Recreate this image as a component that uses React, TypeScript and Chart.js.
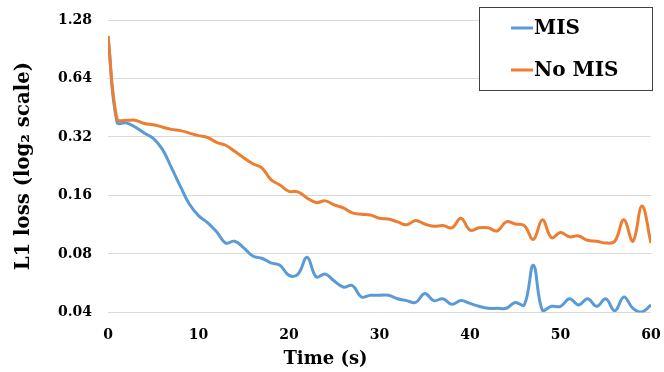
import { useEffect, useRef } from "react";
import { Chart, registerables } from "chart.js";

Chart.register(...registerables);

const times = [
  0, 1, 2, 3, 4, 5, 6, 7, 8, 9, 10, 11, 12, 13, 14, 15, 16, 17, 18, 19, 20,
  21, 22, 23, 24, 25, 26, 27, 28, 29, 30, 31, 32, 33, 34, 35, 36, 37, 38, 39, 40,
  41, 42, 43, 44, 45, 46, 47, 48, 49, 50, 51, 52, 53, 54, 55, 56, 57, 58, 59, 60,
];

const misLoss = [
  1.06, 0.38, 0.378, 0.36, 0.335, 0.315, 0.277, 0.223, 0.178, 0.144, 0.126,
  0.116, 0.104, 0.091, 0.093, 0.086, 0.078, 0.076, 0.072, 0.07, 0.062,
  0.063, 0.077, 0.061, 0.063, 0.058, 0.054, 0.055, 0.048, 0.049, 0.049,
  0.049, 0.047, 0.046, 0.045, 0.05, 0.046, 0.047, 0.044, 0.046, 0.0445,
  0.043, 0.042, 0.042, 0.042, 0.045, 0.0437, 0.07, 0.041, 0.043, 0.043,
  0.047, 0.0437, 0.047, 0.043, 0.047, 0.0408, 0.048, 0.042, 0.0402, 0.0437,
];

const noMisLoss = [
  1.06, 0.395, 0.39, 0.39, 0.375, 0.37, 0.36, 0.35, 0.345, 0.335, 0.325,
  0.318, 0.3, 0.29, 0.27, 0.25, 0.233, 0.222, 0.193, 0.181, 0.168,
  0.167, 0.155, 0.147, 0.15, 0.143, 0.138, 0.13, 0.128, 0.127, 0.122,
  0.121, 0.117, 0.113, 0.119, 0.114, 0.111, 0.112, 0.109, 0.122, 0.106,
  0.109, 0.109, 0.105, 0.117, 0.114, 0.112, 0.095, 0.12, 0.097, 0.103,
  0.098, 0.099, 0.094, 0.093, 0.091, 0.093, 0.12, 0.093, 0.141, 0.091,
];

const yTicks = [0.04, 0.08, 0.16, 0.32, 0.64, 1.28];
const yTickLabels = ["0.04", "0.08", "0.16", "0.32", "0.64", "1.28"];
const seriesNames = ["MIS", "No MIS"];
const seriesColors = ["#5B9BD5", "#ED7D31"];
const xTitle = "Time (s)";
const yTitle = "L1 loss (log\u2082 scale)";

const FONT = "DejaVu Serif";

const legendPlugin = {
  id: "boxLegend",
  afterDraw(chart: any) {
    const { ctx, chartArea } = chart;
    const right = chartArea.right + 2;
    const left = right - 174;
    const top = 7;
    const bottom = 91;
    ctx.save();
    ctx.fillStyle = "#ffffff";
    ctx.fillRect(left, top, right - left, bottom - top);
    ctx.strokeStyle = "#404040";
    ctx.lineWidth = 1;
    ctx.strokeRect(left + 0.5, top + 0.5, right - left - 1, bottom - top - 1);
    const rows = [28, 70];
    seriesNames.forEach((name, i) => {
      const y = rows[i];
      ctx.strokeStyle = seriesColors[i];
      ctx.lineWidth = 3;
      ctx.beginPath();
      ctx.moveTo(left + 32, y);
      ctx.lineTo(left + 54, y);
      ctx.stroke();
      ctx.fillStyle = "#000000";
      ctx.font = `bold 20px "${FONT}"`;
      ctx.textBaseline = "middle";
      ctx.textAlign = "left";
      ctx.fillText(name, left + 55, y + 1);
    });
    ctx.restore();
  },
};

export default function App() {
  const ref = useRef<HTMLCanvasElement>(null);

  useEffect(() => {
    const canvas = ref.current;
    if (!canvas) return;
    const chart = new Chart(canvas, {
      type: "line",
      data: {
        datasets: [
          {
            label: seriesNames[0],
            data: times.map((t, i) => ({ x: t, y: misLoss[i] })),
            borderColor: seriesColors[0],
            backgroundColor: seriesColors[0],
            borderWidth: 3,
            pointRadius: 0,
            tension: 0.4,
            order: 1,
          },
          {
            label: seriesNames[1],
            data: times.map((t, i) => ({ x: t, y: noMisLoss[i] })),
            borderColor: seriesColors[1],
            backgroundColor: seriesColors[1],
            borderWidth: 3,
            pointRadius: 0,
            tension: 0.4,
            order: 0,
          },
        ],
      },
      options: {
        responsive: false,
        animation: false,
        devicePixelRatio: 1,
        layout: { padding: { left: 0, right: 13, top: 20, bottom: 0 } },
        plugins: {
          legend: { display: false },
          tooltip: { enabled: false },
          title: {
            display: true,
            text: xTitle,
            position: "bottom",
            color: "#000000",
            font: { family: FONT, weight: "bold", size: 18 },
            padding: { top: 0, bottom: 2 },
          },
        },
        scales: {
          x: {
            type: "linear",
            min: 0,
            max: 60,
            grid: { display: false, drawTicks: false },
            border: { display: false },
            ticks: {
              stepSize: 10,
              color: "#000000",
              padding: 15,
              font: { family: FONT, weight: "bold", size: 14 },
            },
            afterFit: (scale: any) => {
              scale.height = 36;
              scale.paddingLeft = 0;
              scale.paddingRight = 0;
            },
          },
          y: {
            type: "logarithmic",
            min: 0.04,
            max: 1.28,
            grid: { color: "#d9d9d9", lineWidth: 1, drawTicks: false },
            border: { display: false },
            afterBuildTicks: (scale: any) => {
              scale.ticks = yTicks.map((v) => ({ value: v }));
            },
            ticks: {
              color: "#000000",
              padding: 16,
              font: { family: FONT, weight: "bold", size: 14 },
              callback: (_v: any, index: number) => yTickLabels[index],
            },
            title: {
              display: true,
              text: yTitle,
              color: "#000000",
              font: { family: FONT, weight: "bold", size: 19.7 },
              padding: { top: 12, bottom: 0 },
            },
            afterFit: (scale: any) => {
              scale.width = 108;
              scale.paddingTop = 0;
              scale.paddingBottom = 0;
            },
          },
        },
      },
      plugins: [legendPlugin],
    });
    return () => chart.destroy();
  }, []);

  return (
    <div
      style={{
        position: "fixed",
        left: 0,
        top: 0,
        width: 664,
        height: 372,
        background: "#ffffff",
      }}
    >
      <canvas ref={ref} width={664} height={372} style={{ display: "block" }} />
    </div>
  );
}
